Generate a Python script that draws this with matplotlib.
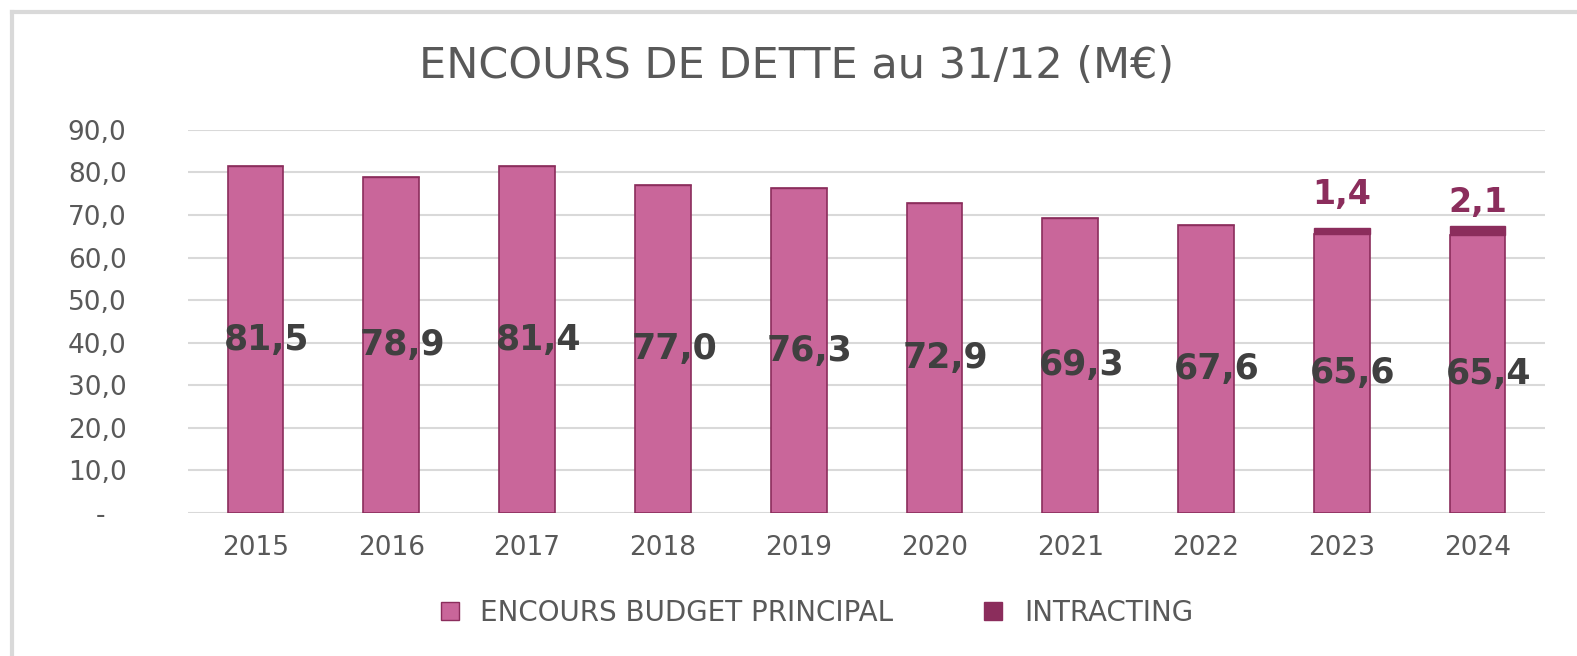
import matplotlib.pyplot as plt
from matplotlib.lines import Line2D

plt.rcParams['font.family'] = ['DejaVu Sans']

years = ['2015', '2016', '2017', '2018', '2019', '2020', '2021', '2022', '2023', '2024']
budget_principal = [81.5, 78.9, 81.4, 77.0, 76.3, 72.9, 69.3, 67.6, 65.6, 65.4]
intracting = [0, 0, 0, 0, 0, 0, 0, 0, 1.4, 2.1]
yticks = [0, 10, 20, 30, 40, 50, 60, 70, 80, 90]

pink = '#C9669A'
plum = '#8B2D5C'
grey = '#595959'


def fr(v):
    return f'{v:.1f}'.replace('.', ',')


fig = plt.figure(figsize=(15.77, 6.56), dpi=100)
ax = fig.add_axes([0.119, 0.218, 0.861, 0.584])

x = list(range(len(years)))
ax.bar(x, budget_principal, width=0.41, color=pink, edgecolor=plum, linewidth=1.2,
       label='ENCOURS BUDGET PRINCIPAL', zorder=3)
ax.bar(x, intracting, width=0.41, bottom=budget_principal, color=plum, edgecolor=plum,
       linewidth=1.0, label='INTRACTING', zorder=3)

for i, v in enumerate(budget_principal):
    ax.annotate(fr(v), (i, v / 2), xytext=(8, 0), textcoords='offset points',
                ha='center', va='center', fontsize=25, fontweight='bold',
                color='#404040', zorder=5)

# labels for intracting above the stacks
lift = {8: 24, 9: 17}
for i, v in enumerate(intracting):
    if v > 0:
        ax.annotate(fr(v), (i, budget_principal[i] + v), xytext=(0, lift[i]),
                    textcoords='offset points', ha='center', va='center',
                    fontsize=24, fontweight='bold', color=plum, zorder=5)

ax.set_xlim(-0.5, len(years) - 0.5)
ax.set_ylim(0, 90)
ax.set_xticks(x)
ax.set_xticklabels(years, fontsize=19, color=grey)
ax.set_yticks(yticks)
ax.set_yticklabels(['-'] + [fr(t) for t in yticks[1:]], fontsize=19, color=grey)
ax.tick_params(length=0)
ax.tick_params(axis='x', pad=16)
ax.tick_params(axis='y', pad=44)
ax.get_yticklabels()[0].set_x(-0.016)  # the "-" sits a bit further left
ax.grid(axis='y', color='#d9d9d9', linewidth=1.5, zorder=0)
ax.set_axisbelow(True)
for s in ax.spines.values():
    s.set_visible(False)

fig.text(0.505, 0.9, 'ENCOURS DE DETTE au 31/12 (M€)', ha='center', va='center',
         fontsize=31, color=grey)

handles = [Line2D([], [], marker='s', linestyle='', markersize=13,
                  markerfacecolor=pink, markeredgecolor=plum),
           Line2D([], [], marker='s', linestyle='', markersize=13,
                  markerfacecolor=plum, markeredgecolor=plum)]
fig.legend(handles, ['ENCOURS BUDGET PRINCIPAL', 'INTRACTING'], loc='center',
           bbox_to_anchor=(0.512, 0.066), ncol=2, frameon=False, fontsize=20,
           labelcolor=grey, handletextpad=0.1, columnspacing=2.6)

# chart frame (top and left edges)
fig.add_artist(Line2D([0.0076, 0.0076], [0, 0.982], color='#d9d9d9', linewidth=3,
                      transform=fig.transFigure))
fig.add_artist(Line2D([0.0076, 1.0], [0.982, 0.982], color='#d9d9d9', linewidth=3,
                      transform=fig.transFigure))

fig.savefig('out.png', dpi=100, facecolor='white')
